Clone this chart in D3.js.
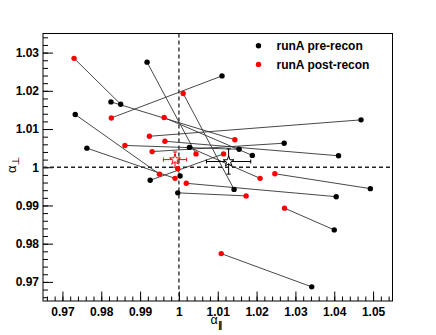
<!DOCTYPE html>
<html>
<head>
<meta charset="utf-8">
<script src="https://cdn.jsdelivr.net/npm/d3@7"></script>
<style>
  body { margin: 0; background: #fff; }
  text { font-family: "Liberation Sans", Arial, sans-serif; fill: #000; }
  .tick text { font-weight: bold; font-size: 12px; }
</style>
</head>
<body>
<svg id="chart" width="436" height="335"></svg>
<script>
// pre-recon (black) and post-recon (red) alpha values, paired by index
var preParallel  = [0.9850, 0.9825, 1.0111, 0.9733, 0.9763, 1.0469, 1.0411, 1.0493, 1.0400, 1.0342, 1.0142, 0.9918, 0.9997, 1.0405, 1.0027, 1.0271, 1.0189, 1.0155, 0.9926, 1.0003];
var prePerp      = [1.0165, 1.0171, 1.0239, 1.0138, 1.0050, 1.0124, 1.0030, 0.9944, 0.9836, 0.9687, 0.9942, 1.0275, 0.9933, 0.9923, 1.0052, 1.0063, 1.0031, 1.0047, 0.9966, 0.9977];
var postParallel = [0.9730, 1.0144, 0.9826, 0.9950, 0.9990, 0.9924, 0.9964, 1.0247, 1.0272, 1.0109, 1.0011, 1.0044, 1.0173, 1.0019, 1.0209, 0.9931, 0.9962, 0.9861, 1.0115, 0.9997];
var postPerp     = [1.0285, 1.0072, 1.0129, 0.9982, 0.9971, 1.0081, 1.0068, 0.9983, 0.9893, 0.9774, 1.0193, 1.0035, 0.9925, 0.9958, 0.9971, 1.0041, 1.0130, 1.0057, 1.0035, 0.9996];

// means with errors: [alpha_par, alpha_perp, err_par, err_perp]
var preMean  = [1.0128, 1.0015, 0.0057, 0.0033];
var postMean = [0.9990, 1.0020, 0.0030, 0.0020];

var xTicks = [0.97, 0.98, 0.99, 1, 1.01, 1.02, 1.03, 1.04, 1.05];
var yTicks = [0.97, 0.98, 0.99, 1, 1.01, 1.02, 1.03];
var legendLabels = ["runA pre-recon", "runA post-recon"];
var colors = ["#000000", "#ff0000"];

var svg = d3.select("#chart");
var fL = 43, fR = 392.5, fT = 33.5, fB = 301;

var x = d3.scaleLinear().domain([0.965, 1.055]).range([fL, fR]);
var y = d3.scaleLinear().domain([0.965, 1.035]).range([fB, fT]);

var minorX = d3.range(0.966, 1.0545, 0.002);
var minorY = d3.range(0.966, 1.0345, 0.002);

// minor ticks
svg.append("g").attr("transform", "translate(0," + fB + ")")
  .call(d3.axisBottom(x).tickValues(minorX).tickSize(-4.5).tickFormat(""))
  .call(function(g){ g.select(".domain").remove(); });
svg.append("g").attr("transform", "translate(" + fL + ",0)")
  .call(d3.axisLeft(y).tickValues(minorY).tickSize(-5).tickFormat(""))
  .call(function(g){ g.select(".domain").remove(); });

// major ticks + labels
svg.append("g").attr("transform", "translate(0," + fB + ")")
  .call(d3.axisBottom(x).tickValues(xTicks).tickSize(-9.5).tickPadding(6).tickFormat(function(d){ return String(+d.toFixed(2)); }))
  .call(function(g){ g.select(".domain").remove(); g.selectAll("text").attr("fill", "#000"); });
svg.append("g").attr("transform", "translate(" + fL + ",0)")
  .call(d3.axisLeft(y).tickValues(yTicks).tickSize(-10).tickPadding(4).tickFormat(function(d){ return String(+d.toFixed(2)); }))
  .call(function(g){ g.select(".domain").remove(); g.selectAll("text").attr("fill", "#000"); });

// frame
svg.append("rect")
  .attr("x", fL).attr("y", fT)
  .attr("width", fR - fL).attr("height", fB - fT)
  .attr("fill", "none").attr("stroke", "#000").attr("stroke-width", 1);

// dashed reference lines at alpha = 1
svg.append("line")
  .attr("x1", x(1)).attr("x2", x(1)).attr("y1", fT).attr("y2", fB)
  .attr("stroke", "#222").attr("stroke-width", 1.3).attr("stroke-dasharray", "4,3");
svg.append("line")
  .attr("x1", fL).attr("x2", fR).attr("y1", y(1)).attr("y2", y(1))
  .attr("stroke", "#222").attr("stroke-width", 1.3).attr("stroke-dasharray", "4,3");

// connecting segments
var idx = d3.range(preParallel.length);
svg.append("g").selectAll("line").data(idx).join("line")
  .attr("x1", function(i){ return x(preParallel[i]); })
  .attr("y1", function(i){ return y(prePerp[i]); })
  .attr("x2", function(i){ return x(postParallel[i]); })
  .attr("y2", function(i){ return y(postPerp[i]); })
  .attr("stroke", "#333").attr("stroke-width", 0.9);

// mean markers with error bars
function meanMarker(m, col){
  var g = svg.append("g").attr("stroke", col).attr("fill", "none").attr("stroke-width", 1);
  var cx = x(m[0]), cy = y(m[1]);
  g.append("line").attr("x1", x(m[0] - m[2])).attr("x2", x(m[0] + m[2])).attr("y1", cy).attr("y2", cy);
  g.append("line").attr("x1", cx).attr("x2", cx).attr("y1", y(m[1] - m[3])).attr("y2", y(m[1] + m[3]));
  [x(m[0] - m[2]), x(m[0] + m[2])].forEach(function(ex){
    g.append("line").attr("x1", ex).attr("x2", ex).attr("y1", cy - 2).attr("y2", cy + 2);
  });
  [y(m[1] - m[3]), y(m[1] + m[3])].forEach(function(ey){
    g.append("line").attr("x1", cx - 2).attr("x2", cx + 2).attr("y1", ey).attr("y2", ey);
  });
  g.append("path")
    .attr("transform", "translate(" + cx + "," + cy + ")")
    .attr("d", d3.symbol(d3.symbolStar, 36)())
    .attr("fill", "#fff");
}
meanMarker(preMean, colors[0]);
meanMarker(postMean, colors[1]);

// points
svg.append("g").selectAll("circle").data(idx).join("circle")
  .attr("cx", function(i){ return x(preParallel[i]); })
  .attr("cy", function(i){ return y(prePerp[i]); })
  .attr("r", 2.7).attr("fill", colors[0]);
svg.append("g").selectAll("circle").data(idx).join("circle")
  .attr("cx", function(i){ return x(postParallel[i]); })
  .attr("cy", function(i){ return y(postPerp[i]); })
  .attr("r", 2.7).attr("fill", colors[1]);

// legend
var legend = svg.append("g");
legendLabels.forEach(function(lab, i){
  legend.append("circle").attr("cx", 258.5).attr("cy", 45.7 + i * 18.7).attr("r", 2.7).attr("fill", colors[i]);
  legend.append("text").attr("x", 276.5).attr("y", 50 + i * 18.7)
    .attr("font-size", 12).attr("font-weight", "bold").text(lab);
});

// axis titles
var xt = svg.append("text").attr("x", 210.5).attr("y", 324).attr("font-size", 12.5);
xt.append("tspan").text("α");
xt.append("tspan").attr("dy", 4).attr("font-size", 9).attr("font-weight", "bold").text("∥");

var yt = svg.append("text").attr("transform", "translate(16,173) rotate(-90)").attr("font-size", 13);
yt.append("tspan").text("α");
yt.append("tspan").attr("dy", 3).attr("font-size", 10)
  .attr("font-family", "DejaVu Sans").attr("fill", "#000").text("⊥");
</script>
</body>
</html>
